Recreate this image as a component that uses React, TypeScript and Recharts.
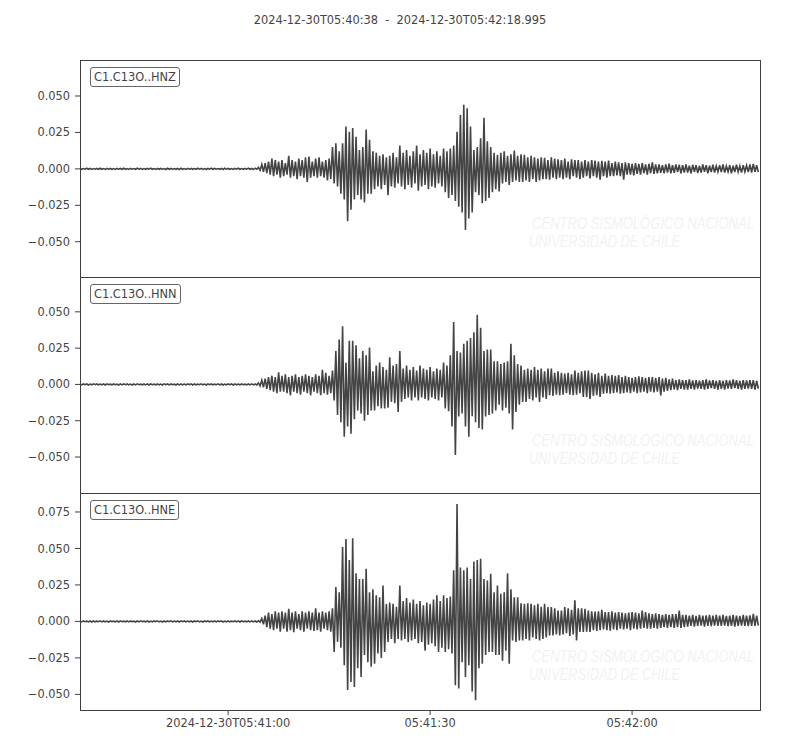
import React from 'react';
import { LineChart, Line, XAxis, YAxis } from 'recharts';

const TITLE = '2024-12-30T05:40:38  -  2024-12-30T05:42:18.995';
const X_END = 100.995; // seconds after 05:40:38
const X_TICKS = [22, 52, 82];
const X_TICK_LABELS = ['2024-12-30T05:41:00', '05:41:30', '05:42:00'];
const BIN = 0.5; // seconds per min/max bin
const CHANNELS = ['C1.C13O..HNZ', 'C1.C13O..HNN', 'C1.C13O..HNE'];
const WATERMARK = ['CENTRO SISMOLÓGICO NACIONAL', 'UNIVERSIDAD DE CHILE'];

const Y_TICKS_Z = [-0.05, -0.025, 0, 0.025, 0.05];
const Y_TICKS_N = [-0.05, -0.025, 0, 0.025, 0.05];
const Y_TICKS_E = [-0.05, -0.025, 0, 0.025, 0.05, 0.075];

const Y_DOMAIN_Z = [-0.0742, 0.0747];
const Y_DOMAIN_N = [-0.0748, 0.0740];
const Y_DOMAIN_E = [-0.0607, 0.0880];

// per-bin maxima / minima, rows of 5 s (10 bins)
const HNZ_HI = [
  .0003, .0002, .0004, .0003, .0002, .0003, .0004, .0002, .0003, .0003,
  .0002, .0003, .0003, .0004, .0002, .0003, .0002, .0004, .0003, .0002,
  .0003, .0004, .0002, .0003, .0003, .0002, .0004, .0003, .0002, .0003,
  .0004, .0002, .0003, .0003, .0002, .0004, .0003, .0002, .0003, .0004,
  .0003, .0002, .0003, .0004, .0003, .0002, .0003, .0004, .0002, .0003,
  .0004, .0003, .0005, .001, .003, .004, .005, .007, .006, .005,
  .006, .004, .009, .006, .005, .007, .006, .008, .0085, .005,
  .007, .008, .005, .006, .007, .015, .0175, .012, .0175, .029,
  .0255, .028, .022, .013, .015, .027, .020, .012, .011, .009,
  .010, .008, .009, .011, .008, .016, .011, .013, .009, .012,
  .016, .010, .013, .011, .014, .010, .012, .009, .014, .012,
  .014, .016, .0255, .037, .044, .0415, .029, .013, .015, .021,
  .035, .019, .015, .011, .0096, .011, .012, .009, .010, .0125,
  .009, .010, .0096, .008, .009, .008, .007, .008, .0075, .006,
  .008, .007, .0066, .006, .007, .005, .0066, .006, .006, .005,
  .006, .005, .006, .0057, .005, .0055, .005, .0057, .004, .005,
  .0045, .004, .0045, .004, .0035, .004, .0035, .004, .003, .0035,
  .0045, .003, .003, .0025, .003, .0035, .0025, .003, .0028, .0025,
  .003, .0022, .0028, .0025, .002, .003, .0025, .0022, .0028, .002,
  .0025, .003, .002, .0025, .0022, .0028, .002, .0025, .0023, .003,
  .0034, .0025,
];
const HNZ_LO = [
  -.0003, -.0002, -.0003, -.0004, -.0002, -.0003, -.0003, -.0004, -.0002, -.0003,
  -.0004, -.0002, -.0003, -.0003, -.0004, -.0002, -.0003, -.0002, -.0004, -.0003,
  -.0002, -.0003, -.0004, -.0003, -.0002, -.0004, -.0003, -.0002, -.0003, -.0004,
  -.0003, -.0004, -.0002, -.0003, -.0003, -.0002, -.0004, -.0003, -.0002, -.0003,
  -.0002, -.0003, -.0004, -.0002, -.0003, -.0004, -.0002, -.0003, -.0003, -.0002,
  -.0003, -.0004, -.0003, -.001, -.002, -.003, -.004, -.005, -.004, -.006,
  -.005, -.004, -.006, -.005, -.007, -.005, -.006, -.009, -.006, -.005,
  -.006, -.005, -.006, -.008, -.007, -.010, -.012, -.017, -.021, -.036,
  -.028, -.021, -.018, -.021, -.023, -.017, -.017, -.014, -.012, -.014,
  -.011, -.018, -.012, -.013, -.010, -.012, -.014, -.011, -.013, -.010,
  -.015, -.012, -.011, -.014, -.012, -.013, -.010, -.012, -.016, -.020,
  -.018, -.022, -.026, -.030, -.042, -.034, -.030, -.016, -.018, -.0235,
  -.022, -.020, -.016, -.014, -.0155, -.010, -.009, -.011, -.009, -.008,
  -.009, -.009, -.008, -.009, -.007, -.009, -.008, -.007, -.007, -.0075,
  -.006, -.007, -.006, -.007, -.006, -.007, -.005, -.006, -.007, -.006,
  -.005, -.0065, -.005, -.006, -.0075, -.005, -.006, -.005, -.005, -.0045,
  -.005, -.0075, -.004, -.004, -.0045, -.0035, -.004, -.003, -.004, -.003,
  -.0035, -.003, -.0028, -.003, -.0025, -.003, -.0028, -.0022, -.003, -.0025,
  -.0025, -.003, -.002, -.0028, -.0025, -.002, -.003, -.0022, -.0025, -.002,
  -.0022, -.0025, -.002, -.003, -.0022, -.002, -.0025, -.002, -.0022, -.0025,
  -.002, -.0022,
];

const HNN_HI = [
  .0002, .0003, .0003, .0002, .0004, .0003, .0002, .0003, .0004, .0002,
  .0003, .0002, .0004, .0003, .0003, .0002, .0003, .0004, .0002, .0003,
  .0004, .0003, .0002, .0003, .0002, .0004, .0003, .0003, .0002, .0003,
  .0003, .0002, .0003, .0004, .0003, .0002, .0004, .0002, .0003, .0003,
  .0002, .0004, .0003, .0002, .0003, .0003, .0004, .0002, .0003, .0002,
  .0003, .0004, .0003, .001, .003, .004, .005, .006, .005, .0084,
  .006, .007, .005, .006, .007, .005, .006, .007, .006, .005,
  .007, .006, .010, .008, .006, .0096, .023, .031, .040, .015,
  .030, .030, .027, .018, .023, .020, .0255, .009, .013, .015,
  .012, .010, .0187, .013, .014, .023, .011, .013, .010, .012,
  .0096, .013, .011, .010, .012, .009, .011, .010, .015, .013,
  .020, .043, .023, .022, .028, .030, .032, .036, .048, .039,
  .023, .024, .024, .016, .016, .014, .015, .016, .028, .020,
  .014, .013, .010, .011, .010, .012, .010, .011, .009, .011,
  .011, .008, .009, .008, .0075, .008, .007, .0096, .008, .009,
  .0096, .0096, .008, .007, .008, .006, .0075, .006, .0065, .006,
  .0065, .005, .006, .005, .0045, .005, .0055, .005, .0045, .005,
  .005, .0045, .005, .004, .0045, .0035, .004, .003, .0035, .003,
  .003, .0035, .0028, .003, .0025, .003, .0035, .0028, .003, .0025,
  .003, .0025, .003, .0028, .0035, .003, .0025, .003, .0028, .003,
  .003, .0025,
];
const HNN_LO = [
  -.0003, -.0002, -.0004, -.0003, -.0002, -.0003, -.0003, -.0004, -.0002, -.0003,
  -.0002, -.0004, -.0003, -.0002, -.0003, -.0004, -.0003, -.0002, -.0003, -.0003,
  -.0004, -.0002, -.0003, -.0003, -.0004, -.0002, -.0003, -.0002, -.0004, -.0003,
  -.0003, -.0003, -.0002, -.0004, -.0003, -.0002, -.0003, -.0004, -.0002, -.0003,
  -.0002, -.0003, -.0004, -.0003, -.0002, -.0004, -.0003, -.0003, -.0002, -.0003,
  -.0003, -.0003, -.0004, -.001, -.002, -.003, -.004, -.005, -.006, -.005,
  -.005, -.006, -.0075, -.005, -.006, -.007, -.005, -.006, -.0075, -.005,
  -.006, -.0075, -.006, -.007, -.006, -.011, -.021, -.026, -.036, -.029,
  -.034, -.024, -.018, -.020, -.025, -.021, -.018, -.018, -.015, -.0166,
  -.0166, -.016, -.012, -.013, -.019, -.012, -.010, -.009, -.011, -.009,
  -.011, -.009, -.010, -.011, -.009, -.010, -.011, -.009, -.0166, -.0185,
  -.029, -.0486, -.022, -.020, -.029, -.036, -.022, -.026, -.030, -.031,
  -.022, -.021, -.020, -.018, -.014, -.018, -.016, -.020, -.031, -.019,
  -.014, -.012, -.012, -.010, -.011, -.009, -.012, -.009, -.010, -.0075,
  -.008, -.007, -.0075, -.007, -.006, -.007, -.0075, -.007, -.006, -.0087,
  -.0087, -.010, -.008, -.0075, -.0087, -.0064, -.006, -.0064, -.006, -.0055,
  -.0064, -.006, -.0055, -.006, -.005, -.006, -.0055, -.005, -.006, -.005,
  -.0055, -.005, -.0075, -.005, -.0045, -.004, -.0035, -.004, -.003, -.0035,
  -.0035, -.003, -.0035, -.0028, -.003, -.0035, -.003, -.0025, -.003, -.0035,
  -.003, -.0035, -.0028, -.003, -.0025, -.003, -.0035, -.003, -.0028, -.003,
  -.0035, -.003,
];

const HNE_HI = [
  .0003, .0004, .0002, .0003, .0003, .0002, .0004, .0003, .0002, .0003,
  .0002, .0003, .0004, .0002, .0003, .0003, .0002, .0003, .0004, .0002,
  .0003, .0002, .0003, .0004, .0002, .0003, .0003, .0004, .0002, .0003,
  .0004, .0003, .0002, .0003, .0003, .0004, .0002, .0003, .0003, .0002,
  .0003, .0003, .0004, .0002, .0003, .0002, .0003, .0004, .0003, .0002,
  .0003, .0004, .0003, .0005, .002, .004, .006, .005, .007, .006,
  .007, .006, .0087, .006, .007, .005, .007, .006, .007, .006,
  .009, .006, .007, .006, .007, .009, .0235, .020, .051, .0565,
  .042, .057, .033, .029, .029, .036, .020, .022, .018, .0166,
  .0246, .012, .013, .012, .010, .0246, .014, .016, .013, .015,
  .012, .014, .011, .013, .012, .015, .018, .014, .018, .016,
  .017, .035, .0805, .037, .035, .037, .029, .041, .042, .043,
  .029, .028, .0326, .020, .0246, .019, .020, .033, .022, .0166,
  .0166, .0125, .012, .0125, .012, .011, .012, .010, .012, .0098,
  .0098, .009, .0075, .0075, .0098, .009, .008, .0144, .009, .009,
  .0087, .0075, .007, .0068, .007, .008, .0064, .0064, .007, .006,
  .0064, .006, .0055, .006, .0064, .006, .0055, .0075, .0064, .0055,
  .005, .0055, .005, .0045, .005, .0045, .005, .005, .0075, .0045,
  .0045, .004, .0045, .0038, .0045, .004, .0042, .0045, .004, .0045,
  .004, .0045, .0038, .004, .0045, .004, .0038, .0045, .004, .0042,
  .0052, .004,
];
const HNE_LO = [
  -.0003, -.0002, -.0003, -.0004, -.0003, -.0002, -.0003, -.0003, -.0004, -.0002,
  -.0003, -.0004, -.0002, -.0003, -.0003, -.0002, -.0004, -.0003, -.0002, -.0003,
  -.0004, -.0003, -.0002, -.0003, -.0004, -.0003, -.0002, -.0003, -.0003, -.0004,
  -.0002, -.0003, -.0003, -.0004, -.0002, -.0003, -.0004, -.0002, -.0003, -.0003,
  -.0003, -.0002, -.0004, -.0003, -.0003, -.0002, -.0003, -.0004, -.0002, -.0003,
  -.0003, -.0003, -.0004, -.0005, -.002, -.004, -.005, -.006, -.005, -.007,
  -.005, -.007, -.006, -.0073, -.005, -.006, -.007, -.005, -.006, -.0065,
  -.006, -.007, -.005, -.006, -.007, -.021, -.014, -.018, -.030, -.047,
  -.0415, -.045, -.032, -.038, -.023, -.028, -.031, -.029, -.022, -.025,
  -.021, -.014, -.012, -.015, -.012, -.013, -.012, -.014, -.013, -.012,
  -.015, -.014, -.020, -.016, -.015, -.017, -.021, -.018, -.021, -.019,
  -.022, -.0438, -.046, -.028, -.038, -.030, -.048, -.054, -.032, -.029,
  -.023, -.021, -.021, -.023, -.023, -.027, -.020, -.029, -.013, -.014,
  -.013, -.013, -.012, -.013, -.011, -.012, -.013, -.012, -.011, -.0096,
  -.0096, -.009, -.0096, -.009, -.008, -.010, -.009, -.013, -.0072, -.0072,
  -.007, -.0072, -.006, -.0065, -.006, -.0055, -.006, -.0064, -.0055, -.006,
  -.005, -.0055, -.005, -.006, -.005, -.0055, -.005, -.0045, -.005, -.005,
  -.0045, -.005, -.0045, -.004, -.0045, -.004, -.0045, -.004, -.0045, -.004,
  -.0035, -.003, -.0035, -.003, -.0028, -.0035, -.003, -.0032, -.0028, -.003,
  -.003, -.0028, -.0032, -.003, -.0035, -.003, -.0028, -.003, -.0032, -.003,
  -.003, -.0028,
];

const TEXT = '#444444';
const FRAME = '#3f3f3f';
const TRACE = '#444444';
const FONT = 'DejaVu Sans, sans-serif';
const FS = 11.4;

function buildSeries(hi: number[], lo: number[]) {
  const rows: { t: number; v: number }[] = [];
  for (let i = 0; i < hi.length; i++) {
    rows.push({ t: i * BIN, v: hi[i] });
    rows.push({ t: i * BIN + BIN / 2, v: lo[i] });
  }
  return rows;
}

const fmtY = (v: number) => (v < 0 ? '\u2212' : '') + Math.abs(v).toFixed(3);
const fmtX = (v: number) => {
  const i = X_TICKS.indexOf(v);
  return i >= 0 ? X_TICK_LABELS[i] : '';
};

type PanelProps = {
  top: number;
  height: number;
  hi: number[];
  lo: number[];
  domain: number[];
  yTicks: number[];
  label: string;
  showX: boolean;
};

function Panel({ top, height, hi, lo, domain, yTicks, label, showX }: PanelProps) {
  const data = buildSeries(hi, lo);
  const axisH = showX ? 30 : 0;
  const tickStyle = { fill: TEXT, fontSize: FS, fontFamily: FONT };
  return (
    <>
      <svg
        style={{ position: 'absolute', left: 0, top, width: 800, height }}
        width={800}
        height={height}
      >
        <g transform="translate(532,169) scale(1,1.3)">
          <text
            x={0}
            y={0}
            fill="#f2f2f2"
            fontSize={13}
            fontStyle="italic"
            fontFamily="Liberation Sans, DejaVu Sans"
            textLength={222}
            lengthAdjust="spacingAndGlyphs"
          >
            {WATERMARK[0]}
          </text>
        </g>
        <g transform="translate(529,187) scale(1,1.3)">
          <text
            x={0}
            y={0}
            fill="#f2f2f2"
            fontSize={13}
            fontStyle="italic"
            fontFamily="Liberation Sans, DejaVu Sans"
            textLength={151}
            lengthAdjust="spacingAndGlyphs"
          >
            {WATERMARK[1]}
          </text>
        </g>
      </svg>
      <div style={{ position: 'absolute', left: 0, top, width: 800, height: height + axisH }}>
        <LineChart
          width={800}
          height={height + axisH}
          data={data}
          margin={{ top: 0, right: 40, bottom: 0, left: 0 }}
        >
          <XAxis
            dataKey="t"
            type="number"
            domain={[0, X_END]}
            allowDataOverflow
            ticks={X_TICKS}
            interval={0}
            tickFormatter={fmtX}
            height={axisH}
            tick={showX ? tickStyle : false}
            tickLine={showX ? { stroke: FRAME } : false}
            axisLine={false}
            tickSize={5}
            tickMargin={4}
          />
          <YAxis
            type="number"
            domain={domain}
            allowDataOverflow
            ticks={yTicks}
            interval={0}
            tickFormatter={fmtY}
            width={80}
            tick={tickStyle}
            tickLine={{ stroke: FRAME }}
            axisLine={false}
            tickSize={5}
            tickMargin={5}
          />
          <Line
            type="linear"
            dataKey="v"
            stroke={TRACE}
            strokeWidth={1.6}
            strokeLinejoin="miter"
            dot={false}
            activeDot={false}
            isAnimationActive={false}
          />
        </LineChart>
      </div>
      <div
        style={{
          position: 'absolute',
          left: 80,
          top,
          width: 681,
          height: height + 1,
          boxSizing: 'border-box',
          border: `1px solid ${FRAME}`,
          pointerEvents: 'none',
        }}
      />
      <div
        style={{
          position: 'absolute',
          left: 90,
          top: top + 7,
          padding: '0px 3px',
          lineHeight: '18px',
          border: '1px solid #666',
          borderRadius: 3,
          background: '#fff',
          color: TEXT,
          fontSize: FS,
          fontFamily: FONT,
          whiteSpace: 'nowrap',
        }}
      >
        {label}
      </div>
    </>
  );
}

export default function App() {
  return (
    <div
      style={{
        position: 'absolute',
        left: 0,
        top: 0,
        width: 800,
        height: 750,
        background: '#fff',
        fontFamily: FONT,
        overflow: 'hidden',
      }}
    >
      <div
        style={{
          position: 'absolute',
          left: 0,
          top: 13,
          width: 800,
          textAlign: 'center',
          fontSize: FS,
          color: TEXT,
          whiteSpace: 'pre',
          fontFamily: FONT,
        }}
      >
        {TITLE}
      </div>
      <Panel top={60} height={217} hi={HNZ_HI} lo={HNZ_LO} domain={Y_DOMAIN_Z} yTicks={Y_TICKS_Z} label={CHANNELS[0]} showX={false} />
      <Panel top={277} height={216} hi={HNN_HI} lo={HNN_LO} domain={Y_DOMAIN_N} yTicks={Y_TICKS_N} label={CHANNELS[1]} showX={false} />
      <Panel top={493} height={217} hi={HNE_HI} lo={HNE_LO} domain={Y_DOMAIN_E} yTicks={Y_TICKS_E} label={CHANNELS[2]} showX={true} />
    </div>
  );
}
